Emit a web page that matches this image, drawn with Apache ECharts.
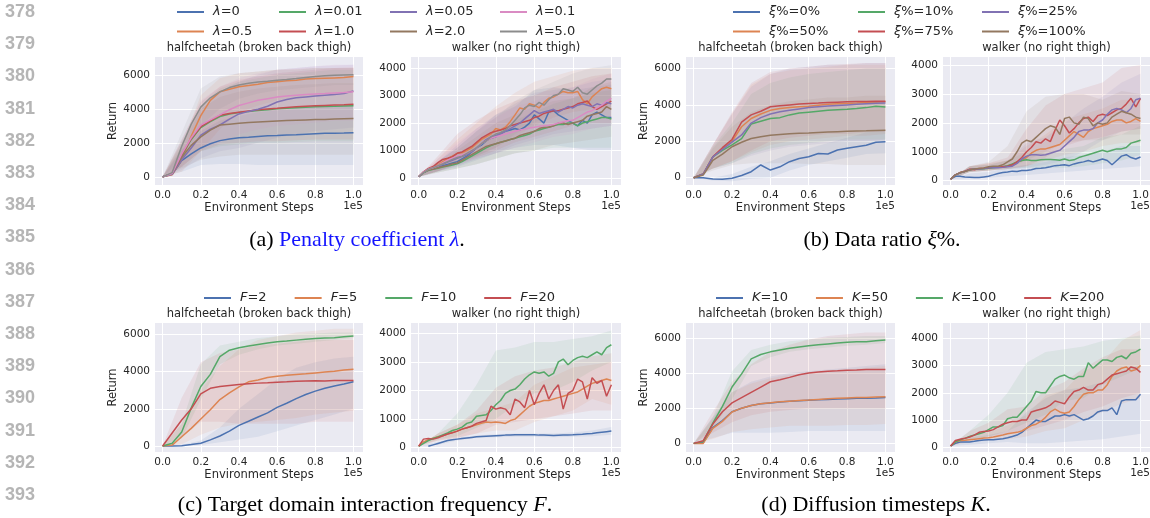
<!DOCTYPE html>
<html><head><meta charset="utf-8">
<script src="https://cdn.jsdelivr.net/npm/echarts@6.0.0/dist/echarts.min.js"></script>
<style>html,body{margin:0;padding:0;background:#fff;}#c{width:1150px;height:518px;}</style>
</head><body><div id="c"></div>
<script>
// ---------- x positions ----------
const X21 = [0,0.05,0.1,0.15,0.2,0.25,0.3,0.35,0.4,0.45,0.5,0.55,0.6,0.65,0.7,0.75,0.8,0.85,0.9,0.95,1.0];
const X41 = [0,0.025,0.05,0.075,0.1,0.125,0.15,0.175,0.2,0.225,0.25,0.275,0.3,0.325,0.35,0.375,0.4,0.425,0.45,0.475,0.5,0.525,0.55,0.575,0.6,0.625,0.65,0.675,0.7,0.725,0.75,0.775,0.8,0.825,0.85,0.875,0.9,0.925,0.95,0.975,1.0];
const XB = [0,0.1,0.2,0.3,0.4,0.5,0.6,0.7,0.8,0.9,1.0];

// ---------- (a) halfcheetah, penalty coefficient ----------
const aHC_l0   = [0,150,950,1350,1700,1950,2130,2220,2300,2330,2380,2410,2430,2460,2480,2510,2540,2560,2570,2580,2600];
const aHC_l05  = [0,120,1000,2400,3600,4500,5000,5150,5300,5380,5450,5550,5600,5650,5680,5750,5780,5800,5820,5840,5900];
const aHC_l001 = [0,200,1250,2200,2900,3250,3550,3700,3780,3850,3900,3950,4000,4030,4070,4100,4120,4140,4150,4170,4180];
const aHC_l1   = [0,200,1300,2250,2950,3300,3620,3720,3800,3880,3950,3990,4030,4080,4120,4150,4180,4200,4220,4240,4270];
const aHC_l005 = [0,150,1000,1700,2450,2800,3050,3400,3700,3850,3980,4150,4400,4550,4650,4700,4750,4800,4850,4900,5050];
const aHC_l2   = [0,200,1150,1850,2350,2750,3050,3100,3150,3200,3230,3260,3290,3310,3330,3350,3370,3380,3400,3420,3430];
const aHC_l01  = [0,200,1350,2300,3050,3350,3650,3950,4200,4350,4500,4600,4700,4750,4800,4850,4880,4900,4930,4960,5000];
const aHC_l5   = [0,250,1800,3100,4100,4650,5000,5250,5400,5500,5580,5620,5680,5720,5780,5850,5900,5950,5980,5990,6000];
const aHC_l0_lo   = [0,300,700,750,750,700,700,700,700,700,700];
const aHC_l0_hi   = [0,1600,2700,3300,3600,3800,3900,4000,4100,4200,4300];
const aHC_l05_lo  = [0,300,1500,2800,3800,4200,4500,4700,4800,4900,5000];
const aHC_l05_hi  = [0,1800,4800,5800,6100,6200,6300,6350,6400,6400,6450];
const aHC_l001_lo = [0,600,1500,1800,1900,2000,2000,2050,2100,2100,2100];
const aHC_l001_hi = [0,2100,4200,5200,5600,5800,6000,6100,6200,6300,6300];
const aHC_l1_lo   = [0,600,1500,1900,2000,2100,2100,2150,2200,2200,2200];
const aHC_l1_hi   = [0,2200,4400,5300,5700,5900,6100,6200,6300,6400,6400];
const aHC_l005_lo = [0,400,1100,1500,1700,2000,2300,2500,2700,2800,2900];
const aHC_l005_hi = [0,1700,4000,5000,5600,6000,6300,6400,6500,6550,6600];
const aHC_l2_lo   = [0,500,1000,1200,1300,1300,1300,1300,1300,1300,1300];
const aHC_l2_hi   = [0,2000,4000,4700,5000,5200,5300,5400,5450,5500,5500];
const aHC_l01_lo  = [0,600,1600,2000,2500,2800,3000,3100,3200,3300,3300];
const aHC_l01_hi  = [0,2200,4500,5300,5800,6100,6300,6400,6500,6600,6600];
const aHC_l5_lo   = [0,1000,3000,4000,4600,4900,5100,5200,5300,5400,5400];
const aHC_l5_hi   = [0,2600,5200,5900,6100,6200,6300,6300,6400,6400,6400];

// ---------- (a) walker ----------
const aW_l5   = [50,200,320,380,450,520,600,680,750,800,900,1000,1100,1250,1350,1500,1600,1650,1750,1900,2100,2300,2550,2650,2600,2750,2650,2850,3000,3050,3250,3200,3150,3300,3100,3050,3200,3350,3450,3600,3600];
const aW_l05  = [50,220,330,400,480,600,700,800,900,920,1000,1100,1250,1400,1500,1600,1800,1750,1850,2050,2300,2550,2500,2700,2650,2550,2750,2900,2950,3050,3150,3100,3100,3150,2850,2700,2950,3100,3250,3300,3250];
const aW_l1   = [50,230,350,420,560,680,720,780,900,950,1050,1150,1300,1450,1550,1650,1700,1750,1800,1900,1950,2000,2050,2100,2200,2250,2350,2400,2450,2450,2500,2550,2600,2700,2750,2800,2600,2500,2600,2700,2800];
const aW_l01  = [50,220,330,380,450,550,650,720,800,850,900,1000,1100,1250,1350,1450,1500,1550,1600,1650,1700,1750,1780,1820,1850,1880,1900,1920,1950,2000,2050,2080,2100,2200,2300,2400,2450,2550,2650,2800,2900];
const aW_l005 = [50,210,300,350,420,500,580,650,720,780,850,950,1100,1250,1400,1500,1550,1600,1700,1800,1900,2000,2150,2300,2450,2350,2400,2450,2500,2400,2500,2600,2550,2650,2700,2650,2600,2700,2650,2750,2700];
const aW_l0   = [50,200,300,350,400,450,500,550,600,700,800,950,1100,1200,1350,1450,1500,1650,1700,1750,1800,1750,1850,2000,2300,2150,2000,2400,2450,2300,2200,2100,2000,1900,2100,2000,2300,2400,2300,2200,2200];
const aW_l2   = [50,200,290,330,380,420,460,520,550,650,750,850,950,1050,1150,1200,1250,1300,1350,1400,1450,1550,1600,1650,1700,1800,1850,1850,1900,2000,2000,1950,2000,2050,2100,2250,2300,2350,2400,2600,2500];
const aW_l001 = [50,190,280,320,360,400,440,480,520,600,700,800,900,1000,1100,1180,1250,1300,1350,1400,1450,1500,1550,1600,1700,1750,1800,1850,1900,1950,1950,2000,2000,1900,2000,2050,2100,2150,2200,2200,2150];
const aW_l5_lo   = [50,250,500,800,1100,1600,2000,2400,2600,2700,2800];
const aW_l5_hi   = [50,600,1100,1700,2200,2800,3200,3500,3800,4000,4100];
const aW_l05_lo  = [50,250,550,800,1100,1500,1900,2200,2400,2500,2500];
const aW_l05_hi  = [50,700,1400,2000,2600,3100,3500,3700,3900,4000,4000];
const aW_l1_lo   = [50,250,500,750,1000,1300,1500,1700,1900,2000,2000];
const aW_l1_hi   = [50,800,1600,2100,2500,2800,3000,3300,3500,3700,3800];
const aW_l01_lo  = [50,250,450,700,900,1100,1300,1500,1600,1800,1900];
const aW_l01_hi  = [50,700,1300,1800,2200,2600,2800,3100,3300,3600,3800];
const aW_l005_lo = [50,250,450,700,900,1200,1400,1600,1700,1800,1900];
const aW_l005_hi = [50,600,1200,1800,2300,2700,3100,3200,3300,3500,3600];
const aW_l0_lo   = [50,250,400,650,900,1100,1200,1200,1100,1000,1000];
const aW_l0_hi   = [50,600,1100,1700,2300,2600,3200,3300,3200,3300,3400];
const aW_l2_lo   = [50,200,350,500,700,900,1000,1200,1300,1400,1500];
const aW_l2_hi   = [50,500,1000,1500,2000,2300,2600,2800,2900,3300,3500];
const aW_l001_lo = [50,200,350,500,700,900,1000,1100,1100,1100,1100];
const aW_l001_hi = [50,500,900,1300,1700,2100,2400,2700,2900,3100,3200];

// ---------- (b) halfcheetah, data ratio ----------
const bHC_p0   = [0,0,-70,-80,-30,120,330,700,420,600,880,1060,1150,1330,1300,1520,1620,1700,1780,1950,1975];
const bHC_p50  = [0,200,1150,1600,2000,2800,3250,3500,3700,3800,3860,3900,3930,3980,4030,4060,4080,4100,4130,4150,4170];
const bHC_p10  = [0,200,1150,1500,1800,2150,2950,3100,3250,3300,3450,3550,3600,3650,3700,3730,3760,3800,3850,3930,3880];
const bHC_p75  = [0,200,1150,1650,2100,3050,3450,3650,3900,3950,4000,4050,4080,4100,4130,4150,4170,4180,4190,4200,4200];
const bHC_p25  = [0,200,1150,1550,1950,2350,3000,3300,3500,3620,3700,3780,3860,3900,3940,3970,4000,4030,4060,4090,4110];
const bHC_p100 = [0,150,950,1300,1700,1950,2150,2250,2330,2380,2420,2440,2460,2490,2510,2530,2550,2570,2580,2600,2610];
const bHC_p0_lo   = [0,-150,-200,-50,0,400,700,900,1100,1300,1350];
const bHC_p0_hi   = [0,0,200,600,900,1300,1600,1900,2200,2500,2600];
const bHC_p50_lo  = [0,500,900,1400,1800,2000,2100,2200,2300,2300,2400];
const bHC_p50_hi  = [0,1800,3500,5100,5700,5900,6000,6100,6200,6200,6200];
const bHC_p10_lo  = [0,500,800,1300,1600,1800,1900,2000,2100,2100,2100];
const bHC_p10_hi  = [0,1700,3000,4600,5200,5500,5700,5800,5900,6000,6000];
const bHC_p75_lo  = [0,500,900,1500,2000,2200,2300,2400,2400,2500,2500];
const bHC_p75_hi  = [0,1800,3600,5200,5800,6000,6100,6200,6250,6300,6300];
const bHC_p25_lo  = [0,500,800,1200,1500,1700,1800,1900,2000,2000,2100];
const bHC_p25_hi  = [0,1800,3500,5000,5700,6000,6100,6200,6200,6300,6300];
const bHC_p100_lo = [0,400,700,800,800,800,750,750,700,700,700];
const bHC_p100_hi = [0,1600,2800,3600,4000,4200,4300,4400,4400,4500,4500];

// ---------- (b) walker ----------
const bW_p0   = [50,150,150,130,120,110,110,130,150,200,250,280,300,330,320,350,350,380,420,430,450,480,520,530,550,520,580,620,650,700,650,700,750,700,550,700,850,900,800,750,820];
const bW_p50  = [50,200,270,320,380,400,410,420,450,460,460,470,500,550,650,700,800,950,1050,1100,1100,1150,1200,1250,1400,1550,1700,1600,1500,1700,1800,1850,1900,1950,2050,2100,2100,2000,2050,2150,2050];
const bW_p10  = [50,200,270,320,380,400,400,410,430,450,460,480,520,580,650,700,720,700,700,720,730,730,720,710,750,700,720,800,850,900,950,1000,1050,1000,1050,1100,1100,1150,1300,1350,1400];
const bW_p75  = [50,200,280,330,400,380,420,430,450,470,460,480,500,550,650,800,1000,1150,1350,1300,1450,1350,1750,2100,1900,1650,1800,2000,2150,2200,2050,2250,2300,2250,2350,2450,2500,2650,2850,2550,2850];
const bW_p25  = [50,200,270,320,380,400,400,420,450,450,450,460,480,500,600,750,850,900,900,880,900,950,1000,1050,1200,1350,1500,1700,1750,1750,1800,2000,2100,2300,2450,2500,2450,2350,2500,2800,2850];
const bW_p100 = [50,200,280,320,370,400,420,440,480,500,500,550,650,750,1000,1300,1400,1350,1500,1650,1800,1900,1850,1600,2150,2200,2000,1950,2200,2150,1900,2000,1950,2000,2200,2300,2400,2350,2300,2200,2150];
const bW_p0_lo   = [50,80,100,150,200,250,300,350,400,450,500];
const bW_p0_hi   = [50,250,300,450,550,650,800,900,1000,1200,1200];
const bW_p50_lo  = [50,300,350,400,500,700,900,1000,1200,1300,1300];
const bW_p50_hi  = [50,500,600,700,1200,1600,2100,2300,2500,2800,2800];
const bW_p10_lo  = [50,300,350,400,450,450,450,500,600,700,900];
const bW_p10_hi  = [50,500,550,700,1000,1000,1100,1200,1500,1600,1900];
const bW_p75_lo  = [50,300,350,400,500,800,1200,1400,1500,1700,1800];
const bW_p75_hi  = [50,500,600,800,1800,2600,3000,3200,3400,3900,4000];
const bW_p25_lo  = [50,300,350,400,450,550,700,1000,1400,1700,1800];
const bW_p25_hi  = [50,500,550,700,1300,1500,2000,2500,2900,3400,3700];
const bW_p100_lo = [50,300,350,450,700,1000,1300,1400,1400,1600,1600];
const bW_p100_hi = [50,500,650,1200,2400,2900,3000,3000,2800,3100,3000];

// ---------- (c) halfcheetah, interaction frequency ----------
const cHC_f2  = [0,0,20,80,150,330,540,800,1110,1330,1560,1780,2080,2300,2550,2770,2950,3100,3230,3330,3450];
const cHC_f5  = [0,50,500,950,1450,1950,2500,2850,3180,3450,3550,3680,3750,3800,3840,3880,3930,3980,4020,4080,4130];
const cHC_f10 = [0,150,750,2050,3200,3850,4800,5150,5280,5380,5460,5530,5600,5640,5690,5740,5780,5800,5820,5870,5910];
const cHC_f20 = [0,700,1400,2000,2800,3100,3200,3250,3300,3350,3380,3400,3430,3450,3480,3500,3510,3500,3520,3520,3520];
const cHC_f2_lo  = [0,0,50,200,350,500,800,1100,1400,1700,2000];
const cHC_f2_hi  = [0,50,300,1000,2000,2800,3600,4200,4500,4700,4800];
const cHC_f5_lo  = [0,100,600,1000,1200,1300,1400,1500,1700,1800,1900];
const cHC_f5_hi  = [0,1200,3000,4300,5200,5700,5900,6100,6200,6300,6300];
const cHC_f10_lo = [0,400,2500,4400,4900,5200,5400,5500,5600,5700,5800];
const cHC_f10_hi = [0,1200,4400,5400,5600,5800,5900,6000,6050,6100,6100];
const cHC_f20_lo = [0,500,1300,1300,1200,1200,1200,1200,1300,1300,1300];
const cHC_f20_hi = [0,2600,4500,5000,5200,5400,5500,5600,5700,5700,5700];

// ---------- (c) walker ----------
const cW_f2  = [null,null,50,100,150,200,250,280,300,320,340,360,380,390,400,410,420,430,440,445,450,450,450,450,450,440,440,435,430,435,440,445,450,460,470,490,500,520,540,560,580];
const cW_f5  = [50,200,280,330,380,420,480,530,580,650,700,750,800,850,900,880,900,880,850,950,1000,1150,1300,1450,1550,1600,1650,1650,1700,1750,1800,1850,1900,1950,2050,2150,2250,2300,2350,2400,2350];
const cW_f10 = [50,150,250,320,380,450,520,600,650,720,850,900,1100,1130,1150,1300,1500,1650,1900,2000,2050,2200,2400,2550,2650,2600,2650,2500,2600,3000,3100,2900,3050,3150,3200,3150,3250,3350,3250,3500,3600];
const cW_f20 = [50,300,320,300,350,420,480,520,580,650,700,750,850,900,950,1450,1350,1400,1350,1150,1700,1600,1400,2000,1500,1900,2200,1700,2000,2200,1350,1900,2000,2400,2300,1700,2450,2250,2350,1800,2200];
const cW_f2_lo  = [50,100,250,350,370,380,380,370,380,400,450];
const cW_f2_hi  = [50,200,350,430,470,500,500,500,530,600,720];
const cW_f5_lo  = [50,250,350,500,600,600,900,1100,1300,1700,1500];
const cW_f5_hi  = [50,500,800,1200,1400,1600,2200,2500,2800,2900,3000];
const cW_f10_lo = [50,300,400,700,1000,1500,1900,2000,2300,2700,3000];
const cW_f10_hi = [50,500,1200,2200,3400,3500,3700,3700,3800,3900,4100];
const cW_f20_lo = [50,250,350,500,800,900,1000,1100,1200,1300,1300];
const cW_f20_hi = [50,500,800,1300,2100,2500,2700,2800,3000,3200,3300];

// ---------- (d) halfcheetah, diffusion timesteps ----------
const dHC_k10  = [0,50,900,1300,1800,2000,2150,2250,2300,2350,2400,2420,2450,2480,2500,2520,2540,2560,2570,2580,2600];
const dHC_k50  = [0,0,850,1250,1780,2000,2150,2250,2310,2370,2400,2430,2460,2500,2530,2560,2580,2600,2610,2630,2650];
const dHC_k100 = [0,100,1150,2100,3200,3950,4800,5050,5200,5300,5400,5480,5550,5600,5650,5700,5750,5770,5780,5830,5880];
const dHC_k200 = [0,150,1100,1800,2300,2600,2900,3200,3500,3620,3750,3900,4000,4050,4100,4120,4150,4170,4200,4200,4200];
const dHC_k10_lo  = [0,300,600,600,600,650,700,700,700,700,700];
const dHC_k10_hi  = [0,1500,2900,3500,3800,4000,4100,4200,4300,4400,4500];
const dHC_k50_lo  = [0,250,650,800,900,1000,1000,1000,1050,1050,1100];
const dHC_k50_hi  = [0,1400,2900,3400,3700,3900,4000,4100,4200,4300,4400];
const dHC_k100_lo = [0,800,2500,4400,4900,5200,5350,5450,5550,5600,5700];
const dHC_k100_hi = [0,1500,4100,5300,5600,5800,5900,6000,6050,6100,6100];
const dHC_k200_lo = [0,600,1200,1600,1800,1900,2000,2000,2000,2000,2000];
const dHC_k200_hi = [0,1800,3500,4500,5200,5600,5900,6100,6200,6300,6300];

// ---------- (d) walker ----------
const dW_k10  = [50,150,200,200,200,220,250,270,280,280,300,320,350,400,450,550,700,850,1000,950,950,1050,1150,1150,1200,1150,1200,1100,1000,1050,1150,1300,1350,1350,1450,1200,1700,1750,1750,1750,1950];
const dW_k50  = [50,200,250,260,280,300,320,340,350,380,420,450,500,530,550,600,700,800,850,950,1100,1300,1400,1300,1250,1300,1500,1750,1950,2000,2000,2100,2100,2300,2600,2800,2900,2950,2800,2850,3000];
const dW_k100 = [50,200,280,330,400,450,500,550,650,750,750,800,1050,1100,1100,1300,1500,1700,2050,2000,2000,2250,2500,2600,2650,2550,2500,2600,2600,3100,2900,3050,3200,3200,3150,3300,3350,3250,3450,3500,3600];
const dW_k200 = [50,250,300,330,380,450,550,580,600,650,750,850,900,950,950,1000,1000,1300,1350,1400,1450,1550,1700,1650,1600,1850,2050,2100,2200,2100,2100,2300,2350,2500,2650,2700,2750,2800,2950,2900,2750];
const dW_k10_lo  = [50,100,150,200,150,150,200,250,300,400,500];
const dW_k10_hi  = [50,350,450,600,1300,1800,2100,2200,2400,2800,3000];
const dW_k50_lo  = [50,200,250,300,400,600,700,1000,1300,1600,1800];
const dW_k50_hi  = [50,400,550,800,1200,1900,2100,2800,3100,3900,4300];
const dW_k100_lo = [50,300,400,600,900,1200,1700,1800,2300,2600,2900];
const dW_k100_hi = [50,600,1200,2000,3100,3500,3600,3700,3900,4000,4100];
const dW_k200_lo = [50,300,400,500,600,800,1000,1300,1500,1800,2000];
const dW_k200_hi = [50,600,900,1400,1500,2100,2400,2900,3300,3600,3600];

// ---------- legend labels ----------
const LEG_A = [['λ=0','λ=0.5'],['λ=0.01','λ=1.0'],['λ=0.05','λ=2.0'],['λ=0.1','λ=5.0']];
const LEG_B = [['ξ%=0%','ξ%=50%'],['ξ%=10%','ξ%=75%'],['ξ%=25%','ξ%=100%']];
const LEG_C = ['F=2','F=5','F=10','F=20'];
const LEG_D = ['K=10','K=50','K=100','K=200'];

const TITLE_HC = 'halfcheetah (broken back thigh)';
const TITLE_W = 'walker (no right thigh)';

// ---------- styling ----------
const C = {blue:'#4c72b0', orange:'#dd8452', green:'#55a868', red:'#c44e52', purple:'#8172b3', brown:'#937860', pink:'#da8bc3', gray:'#8c8c8c'};
const TXT = '#262626';
const FONT = 'DejaVu Sans';

const PANELS = [
  {box:{left:155,top:57,width:208,height:128}, title:TITLE_HC, xs:X21, yMin:-480, yMax:7050, split:4, step:2000, ylab:true, lines:[
    ['λ=0',C.blue,aHC_l0,aHC_l0_lo,aHC_l0_hi],['λ=0.5',C.orange,aHC_l05,aHC_l05_lo,aHC_l05_hi],
    ['λ=0.01',C.green,aHC_l001,aHC_l001_lo,aHC_l001_hi],['λ=1.0',C.red,aHC_l1,aHC_l1_lo,aHC_l1_hi],
    ['λ=0.05',C.purple,aHC_l005,aHC_l005_lo,aHC_l005_hi],['λ=2.0',C.brown,aHC_l2,aHC_l2_lo,aHC_l2_hi],
    ['λ=0.1',C.pink,aHC_l01,aHC_l01_lo,aHC_l01_hi],['λ=5.0',C.gray,aHC_l5,aHC_l5_lo,aHC_l5_hi]]},
  {box:{left:411,top:57,width:210,height:128}, title:TITLE_W, xs:X41, yMin:-250, yMax:4400, split:5, step:1000, ylab:false, lines:[
    ['λ=0',C.blue,aW_l0,aW_l0_lo,aW_l0_hi],['λ=0.5',C.orange,aW_l05,aW_l05_lo,aW_l05_hi],
    ['λ=0.01',C.green,aW_l001,aW_l001_lo,aW_l001_hi],['λ=1.0',C.red,aW_l1,aW_l1_lo,aW_l1_hi],
    ['λ=0.05',C.purple,aW_l005,aW_l005_lo,aW_l005_hi],['λ=2.0',C.brown,aW_l2,aW_l2_lo,aW_l2_hi],
    ['λ=0.1',C.pink,aW_l01,aW_l01_lo,aW_l01_hi],['λ=5.0',C.gray,aW_l5,aW_l5_lo,aW_l5_hi]]},
  {box:{left:686,top:57,width:209,height:128}, title:TITLE_HC, xs:X21, yMin:-400, yMax:6630, split:4, step:2000, ylab:true, lines:[
    ['ξ%=0%',C.blue,bHC_p0,bHC_p0_lo,bHC_p0_hi],['ξ%=50%',C.orange,bHC_p50,bHC_p50_lo,bHC_p50_hi],
    ['ξ%=10%',C.green,bHC_p10,bHC_p10_lo,bHC_p10_hi],['ξ%=75%',C.red,bHC_p75,bHC_p75_lo,bHC_p75_hi],
    ['ξ%=25%',C.purple,bHC_p25,bHC_p25_lo,bHC_p25_hi],['ξ%=100%',C.brown,bHC_p100,bHC_p100_lo,bHC_p100_hi]]},
  {box:{left:943,top:57,width:207,height:128}, title:TITLE_W, xs:X41, yMin:-150, yMax:4280, split:5, step:1000, ylab:false, lines:[
    ['ξ%=0%',C.blue,bW_p0,bW_p0_lo,bW_p0_hi],['ξ%=50%',C.orange,bW_p50,bW_p50_lo,bW_p50_hi],
    ['ξ%=10%',C.green,bW_p10,bW_p10_lo,bW_p10_hi],['ξ%=75%',C.red,bW_p75,bW_p75_lo,bW_p75_hi],
    ['ξ%=25%',C.purple,bW_p25,bW_p25_lo,bW_p25_hi],['ξ%=100%',C.brown,bW_p100,bW_p100_lo,bW_p100_hi]]},
  {box:{left:155,top:323,width:208,height:129}, title:TITLE_HC, xs:X21, yMin:-320, yMax:6610, split:4, step:2000, ylab:true, lines:[
    ['F=2',C.blue,cHC_f2,cHC_f2_lo,cHC_f2_hi],['F=5',C.orange,cHC_f5,cHC_f5_lo,cHC_f5_hi],
    ['F=10',C.green,cHC_f10,cHC_f10_lo,cHC_f10_hi],['F=20',C.red,cHC_f20,cHC_f20_lo,cHC_f20_hi]]},
  {box:{left:411,top:323,width:210,height:129}, title:TITLE_W, xs:X41, yMin:-150, yMax:4360, split:5, step:1000, ylab:false, lines:[
    ['F=2',C.blue,cW_f2,cW_f2_lo,cW_f2_hi],['F=5',C.orange,cW_f5,cW_f5_lo,cW_f5_hi],
    ['F=10',C.green,cW_f10,cW_f10_lo,cW_f10_hi],['F=20',C.red,cW_f20,cW_f20_lo,cW_f20_hi]]},
  {box:{left:686,top:323,width:209,height:129}, title:TITLE_HC, xs:X21, yMin:-490, yMax:6840, split:4, step:2000, ylab:true, lines:[
    ['K=10',C.blue,dHC_k10,dHC_k10_lo,dHC_k10_hi],['K=50',C.orange,dHC_k50,dHC_k50_lo,dHC_k50_hi],
    ['K=100',C.green,dHC_k100,dHC_k100_lo,dHC_k100_hi],['K=200',C.red,dHC_k200,dHC_k200_lo,dHC_k200_hi]]},
  {box:{left:943,top:323,width:207,height:129}, title:TITLE_W, xs:X41, yMin:-170, yMax:4560, split:5, step:1000, ylab:false, lines:[
    ['K=10',C.blue,dW_k10,dW_k10_lo,dW_k10_hi],['K=50',C.orange,dW_k50,dW_k50_lo,dW_k50_hi],
    ['K=100',C.green,dW_k100,dW_k100_lo,dW_k100_hi],['K=200',C.red,dW_k200,dW_k200_lo,dW_k200_hi]]}
];

function rgba(hex, a){const n=parseInt(hex.slice(1),16);return 'rgba('+(n>>16)+','+((n>>8)&255)+','+(n&255)+','+a+')';}

const grid = [], xAxis = [], yAxis = [], series = [], graphic = [];

function txt(x, y, text, size, fill, align, extra) {
  return {type:'text', x:x, y:y, silent:true, z:100,
    style:Object.assign({text:text, fontSize:size, fontFamily:FONT, fill:fill,
      align:align, verticalAlign:'middle', textAlign:align, textVerticalAlign:'middle'}, extra||{})};
}

PANELS.forEach(function(p, gi){
  grid.push(Object.assign({show:true, backgroundColor:'#eaeaf2', borderWidth:0, containLabel:false, outerBoundsMode:'none'}, p.box));
  xAxis.push({gridIndex:gi, type:'value', min:-0.04, max:1.05, splitNumber:5,
    axisLine:{show:false}, axisTick:{show:false},
    splitLine:{show:true, showMinLine:false, showMaxLine:false, lineStyle:{color:'#ffffff', width:1}},
    axisLabel:{fontSize:10.5, color:TXT, fontFamily:FONT, margin:5,
      formatter:function(v){const r=Math.round(v*5);return (Math.abs(v*5-r)<1e-6&&r>=0&&r<=5)?(r/5).toFixed(1):'';}},
    name:'Environment Steps', nameLocation:'middle', nameGap:16,
    nameTextStyle:{fontSize:11.5, color:TXT, fontFamily:FONT}});
  yAxis.push({gridIndex:gi, type:'value', min:p.yMin, max:p.yMax, splitNumber:p.split,
    axisLine:{show:false}, axisTick:{show:false},
    splitLine:{show:true, showMinLine:false, showMaxLine:false, lineStyle:{color:'#ffffff', width:1}},
    axisLabel:{fontSize:10.5, color:TXT, fontFamily:FONT, margin:5,
      formatter:function(v){return (v>=0 && Math.abs(v % p.step)<1e-6)?String(v):'';}},
    name:p.ylab?'Return':'', nameLocation:'middle', nameGap:34,
    nameTextStyle:{fontSize:11.5, color:TXT, fontFamily:FONT}});

  p.lines.forEach(function(l){
    const color=l[1], lo=l[3], hi=l[4];
    const bd = XB.map(function(x,i){return [x, lo[i], hi[i]];});
    series.push({type:'custom', name:l[0]+' band', xAxisIndex:gi, yAxisIndex:gi, silent:true, clip:true, z:1,
      data:bd, encode:{x:0, y:[1,2]},
      renderItem:function(params, api){
        if (params.dataIndex!==0) return null;
        const pts=[];
        for (let i=0;i<bd.length;i++) pts.push(api.coord([bd[i][0], bd[i][2]]));
        for (let i=bd.length-1;i>=0;i--) pts.push(api.coord([bd[i][0], bd[i][1]]));
        return {type:'polygon', shape:{points:pts}, style:{fill:rgba(color,0.1)}};
      }});
  });
  p.lines.forEach(function(l){
    const color=l[1], mean=l[2];
    series.push({type:'line', name:l[0], xAxisIndex:gi, yAxisIndex:gi, symbol:'none', showSymbol:false,
      data:p.xs.map(function(x,i){return [x, mean[i]];}),
      lineStyle:{color:color, width:1.5}, itemStyle:{color:color}, z:3, silent:true, clip:true});
  });

  const b=p.box, cx=b.left+b.width/2;
  graphic.push(txt(cx, b.top-9, p.title, 11.5, TXT, 'center'));
  graphic.push(txt(b.left+b.width, b.top+b.height+21, '1e5', 10.5, TXT, 'right'));
});

// legends
const legStyle = {fontSize:13, color:TXT, fontFamily:FONT, lineHeight:15, padding:[0,0,0,4],
  rich:{i:{fontStyle:'italic', fontSize:13, color:TXT, fontFamily:FONT, lineHeight:15}}};
function legFmt(n){return '{i|'+n[0]+'}'+n.slice(1);}
const legend = [];
const colA=[177,279,390,500], colB=[733,858,982];
LEG_A.forEach(function(col,i){legend.push({data:col, orient:'vertical', left:colA[i], top:4.5, padding:0, itemGap:4.5,
  icon:'rect', itemWidth:27, itemHeight:2, formatter:legFmt, textStyle:legStyle, selectedMode:false});});
LEG_B.forEach(function(col,i){legend.push({data:col, orient:'vertical', left:colB[i], top:4.5, padding:0, itemGap:4.5,
  icon:'rect', itemWidth:27, itemHeight:2, formatter:legFmt, textStyle:legStyle, selectedMode:false});});
legend.push({data:LEG_C, orient:'horizontal', left:204, top:290.5, padding:0, itemGap:28,
  icon:'rect', itemWidth:27, itemHeight:2, formatter:legFmt, textStyle:legStyle, selectedMode:false});
legend.push({data:LEG_D, orient:'horizontal', left:716, top:290.5, padding:0, itemGap:28,
  icon:'rect', itemWidth:27, itemHeight:2, formatter:legFmt, textStyle:legStyle, selectedMode:false});

// captions
const SERIF='Liberation Serif';
const capRich = {
  b:{fill:'#1414ff', fontFamily:SERIF, fontSize:22, color:'#1414ff'},
  bi:{fill:'#1414ff', fontFamily:SERIF, fontSize:22, fontStyle:'italic', color:'#1414ff'},
  i:{fill:'#000', fontFamily:SERIF, fontSize:22, fontStyle:'italic', color:'#000'}
};
function cap(x,y,t){return {type:'text', x:x, y:y, silent:true, style:{text:t, fontSize:22, fontFamily:SERIF, fill:'#000',
  align:'center', verticalAlign:'middle', textAlign:'center', textVerticalAlign:'middle', rich:capRich}};}
graphic.push(cap(357,240,'(a) {b|Penalty coefficient }{bi|λ}.'));
graphic.push(cap(882,240,'(b) Data ratio {i|ξ}%.'));
graphic.push(cap(365,505,'(c) Target domain interaction frequency {i|F}.'));
graphic.push(cap(876,505,'(d) Diffusion timesteps {i|K}.'));

// page line numbers
for (let k=0;k<17;k++){
  graphic.push({type:'text', x:20, y:12+32.2*k, silent:true, style:{text:String(378+k), fontSize:18, fontWeight:'bold',
    fontFamily:'Liberation Sans', fill:'#b5b5b5', align:'center', verticalAlign:'middle', textAlign:'center', textVerticalAlign:'middle'}});
}

const chart = echarts.init(document.getElementById('c'), null, {renderer:'canvas', width:1150, height:518});
chart.setOption({
  animation:false,
  backgroundColor:'#ffffff',
  textStyle:{fontFamily:FONT},
  grid:grid, xAxis:xAxis, yAxis:yAxis, series:series, legend:legend, graphic:graphic
});
</script></body></html>
